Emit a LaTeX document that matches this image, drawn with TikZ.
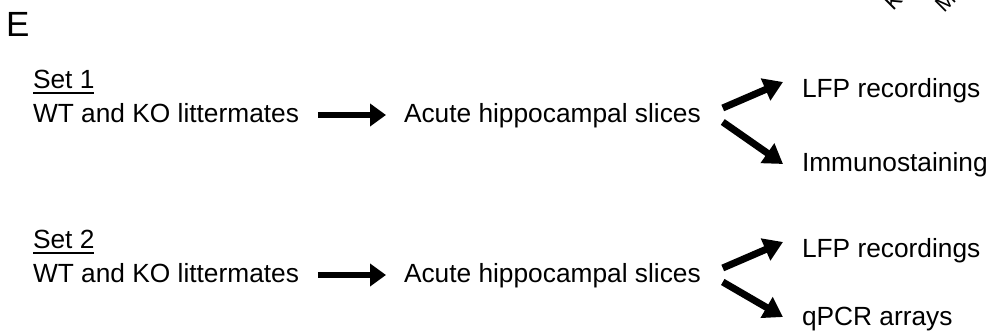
\documentclass[tikz,border=0pt]{standalone}
\usepackage{fontspec}
\setmainfont{Liberation Sans}
\usetikzlibrary{arrows.meta}
\tikzset{
  txt/.style={inner sep=0pt, outer sep=0pt, anchor=base west, font=\fontsize{26.3}{30}\selectfont},
  mainarrow/.style={line width=6pt, -{Triangle[length=16pt,width=22pt]}},
  forkarrow/.style={line width=7pt, -{Triangle[length=19pt,width=23pt]}},
  uline/.style={line width=1.6pt},
  frag/.style={inner sep=0pt, anchor=base west, rotate=45, font=\fontsize{22}{26}\selectfont}
}
\begin{document}
\begin{tikzpicture}[x=1pt,y=-1pt]
\useasboundingbox (0,0) rectangle (991,331);
\begin{scope}
\clip (0,0) rectangle (991,331);
\node[frag] (fragA) at (893,12) {K};
\node[frag] (fragB) at (944,14) {M};
\end{scope}
\node[txt, font=\fontsize{35}{40}\selectfont] (E) at (6,37) {E};
% Set 1
\node[txt] (set1) at (33,89) {Set 1};
\draw[uline] ([yshift=-4pt]set1.base west) -- ([yshift=-4pt]set1.base east);
\node[txt] (wt1) at (33,123) {WT and KO littermates};
\node[txt] (ac1) at (404,123) {Acute hippocampal slices};
\node[txt] (lfp1) at (802,98) {LFP recordings};
\node[txt] (imm1) at (802,172) {Immunostaining};
\draw[mainarrow] ([xshift=19pt,yshift=8pt]wt1.base east) -- ([xshift=-18pt,yshift=8pt]ac1.base west);
\draw[forkarrow] ([xshift=22pt,yshift=15pt]ac1.base east) -- ([xshift=-19pt,yshift=16pt]lfp1.base west);
\draw[forkarrow] ([xshift=22pt,yshift=1pt]ac1.base east) -- ([xshift=-19pt,yshift=8pt]imm1.base west);
% Set 2
\node[txt] (set2) at (33,249) {Set 2};
\draw[uline] ([yshift=-4pt]set2.base west) -- ([yshift=-4pt]set2.base east);
\node[txt] (wt2) at (33,283) {WT and KO littermates};
\node[txt] (ac2) at (404,283) {Acute hippocampal slices};
\node[txt] (lfp2) at (802,258) {LFP recordings};
\node[txt] (qpcr2) at (802,325) {qPCR arrays};
\draw[mainarrow] ([xshift=19pt,yshift=8pt]wt2.base east) -- ([xshift=-18pt,yshift=8pt]ac2.base west);
\draw[forkarrow] ([xshift=22pt,yshift=15pt]ac2.base east) -- ([xshift=-19pt,yshift=16pt]lfp2.base west);
\draw[forkarrow] ([xshift=22pt,yshift=1pt]ac2.base east) -- ([xshift=-19pt,yshift=8pt]qpcr2.base west);
\end{tikzpicture}
\end{document}
